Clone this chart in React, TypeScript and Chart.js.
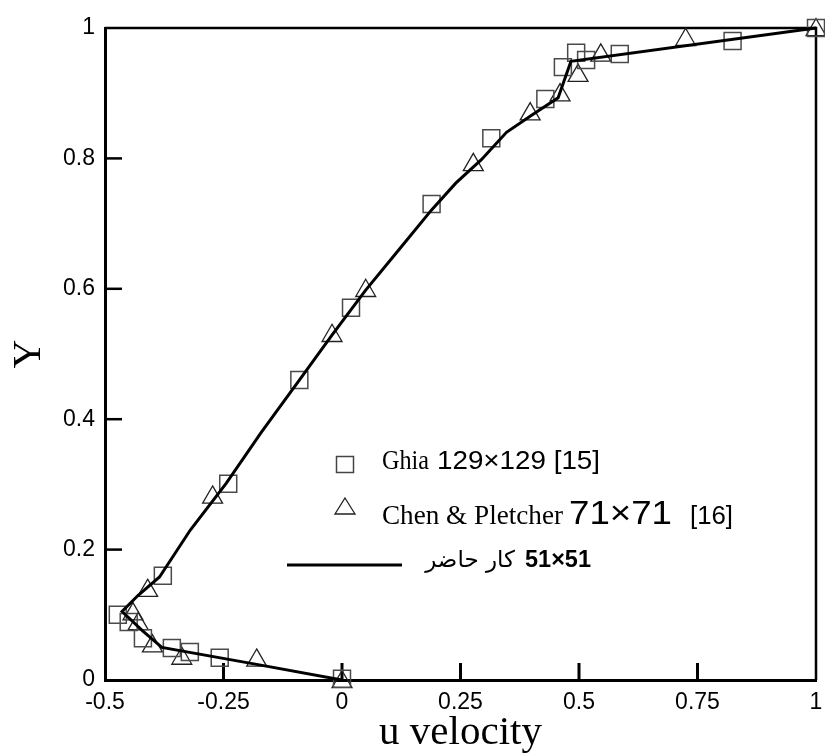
import React, { useEffect, useRef } from 'react';
import { Chart, registerables } from 'chart.js';

Chart.register(...registerables);

// ---- data ----
const X_TICK_VALUES = [-0.5, -0.25, 0, 0.25, 0.5, 0.75, 1];
const X_TICK_LABELS = ['-0.5', '-0.25', '0', '0.25', '0.5', '0.75', '1'];
const Y_TICK_VALUES = [0, 0.2, 0.4, 0.6, 0.8, 1];
const Y_TICK_LABELS = ['0', '0.2', '0.4', '0.6', '0.8', '1'];

const GHIA_U = [1, 0.824, 0.586, 0.515, 0.494, 0.466, 0.429, 0.315, 0.189, 0.019, -0.09, -0.24, -0.378, -0.473, -0.45, -0.42, -0.359, -0.321, -0.258, 0];
const GHIA_Y = [1, 0.98, 0.96, 0.951, 0.962, 0.94, 0.891, 0.831, 0.73, 0.571, 0.46, 0.301, 0.16, 0.1, 0.089, 0.064, 0.049, 0.043, 0.034, 0.002];

const CHEN_U = [1, 0.725, 0.546, 0.498, 0.46, 0.397, 0.277, 0.05, -0.021, -0.273, -0.41, -0.441, -0.43, -0.4, -0.338, -0.18, 0];
const CHEN_Y = [0.997, 0.982, 0.958, 0.927, 0.897, 0.868, 0.79, 0.597, 0.528, 0.28, 0.137, 0.101, 0.086, 0.052, 0.033, 0.03, -0.003];

const PRESENT_U = [0, -0.18, -0.38, -0.42, -0.464, -0.43, -0.385, -0.32, -0.244, -0.17, -0.09, -0.02, 0.05, 0.12, 0.189, 0.24, 0.294, 0.347, 0.4, 0.456, 0.483, 1];
const PRESENT_Y = [0, 0.024, 0.05, 0.075, 0.105, 0.13, 0.158, 0.23, 0.302, 0.38, 0.46, 0.53, 0.598, 0.66, 0.721, 0.762, 0.798, 0.84, 0.866, 0.893, 0.949, 1];

const LEGEND_GHIA_NAME = 'Ghia';
const LEGEND_GHIA_GRID = '129×129 [15]';
const LEGEND_CHEN_NAME = 'Chen & Pletcher';
const LEGEND_CHEN_GRID = '71×71';
const LEGEND_CHEN_REF = '[16]';
const LEGEND_PRESENT_TEXT = 'كار حاضر';
const LEGEND_PRESENT_GRID = '51×51';

const X_TITLE = 'u velocity';
const Y_TITLE = 'Y';

const toPoints = (xs: number[], ys: number[]) => xs.map((x, i) => ({ x, y: ys[i] }));

// draw text starting at x (left edge) squeezed/stretched to a given width
function fitText(ctx: CanvasRenderingContext2D, text: string, x: number, y: number, font: string, width: number) {
  ctx.save();
  ctx.font = font;
  ctx.textAlign = 'left';
  const w = ctx.measureText(text).width || 1;
  ctx.translate(x, y);
  ctx.scale(width / w, 1);
  ctx.fillText(text, 0, 0);
  ctx.restore();
}

const framePlugin = {
  id: 'frameTicks',
  beforeDatasetsDraw(chart: any) {
    const { ctx, chartArea } = chart;
    const { left, right, top, bottom } = chartArea;
    const xs = chart.scales.x;
    const ys = chart.scales.y;
    ctx.save();
    ctx.strokeStyle = '#000';
    ctx.lineWidth = 2.5;
    ctx.beginPath();
    ctx.moveTo(left, top);
    ctx.lineTo(right, top);
    ctx.lineTo(right, bottom);
    ctx.stroke();
    ctx.lineWidth = 3;
    xs.ticks.forEach((t: any) => {
      if (t.value <= xs.min + 1e-9 || t.value >= xs.max - 1e-9) return;
      const px = xs.getPixelForValue(t.value);
      ctx.beginPath();
      ctx.moveTo(px, bottom);
      ctx.lineTo(px, bottom - 17);
      ctx.stroke();
    });
    ctx.lineWidth = 2.5;
    ys.ticks.forEach((t: any) => {
      if (t.value <= ys.min + 1e-9 || t.value >= ys.max - 1e-9) return;
      const py = ys.getPixelForValue(t.value);
      ctx.beginPath();
      ctx.moveTo(left, py);
      ctx.lineTo(left + 17, py);
      ctx.stroke();
    });
    ctx.restore();
  },
};

const legendPlugin = {
  id: 'customLegend',
  afterDraw(chart: any) {
    const ctx = chart.ctx as CanvasRenderingContext2D;
    ctx.save();
    ctx.textBaseline = 'alphabetic';
    ctx.fillStyle = '#000';
    // square
    ctx.strokeStyle = '#444';
    ctx.lineWidth = 1.5;
    ctx.strokeRect(336.5, 456.5, 17, 16);
    fitText(ctx, LEGEND_GHIA_NAME, 382, 469, '28px "Liberation Serif", serif', 47);
    fitText(ctx, LEGEND_GHIA_GRID, 437, 469, '25px "Liberation Sans", sans-serif', 163);
    // triangle
    ctx.strokeStyle = '#222';
    ctx.lineWidth = 1.3;
    ctx.beginPath();
    ctx.moveTo(345, 498);
    ctx.lineTo(355, 514);
    ctx.lineTo(335, 514);
    ctx.closePath();
    ctx.stroke();
    fitText(ctx, LEGEND_CHEN_NAME, 382, 524, '28px "Liberation Serif", serif', 181);
    fitText(ctx, LEGEND_CHEN_GRID, 569, 524, '33px "Liberation Sans", sans-serif', 103);
    fitText(ctx, LEGEND_CHEN_REF, 690, 524, '25px "Liberation Sans", sans-serif', 43);
    // line
    ctx.strokeStyle = '#000';
    ctx.lineWidth = 3;
    ctx.beginPath();
    ctx.moveTo(287, 565);
    ctx.lineTo(402, 565);
    ctx.stroke();
    ctx.font = '23px "DejaVu Sans", sans-serif';
    ctx.textAlign = 'right';
    ctx.fillText(LEGEND_PRESENT_TEXT, 515, 567);
    fitText(ctx, LEGEND_PRESENT_GRID, 525, 567, 'bold 23px "Liberation Sans", sans-serif', 66);
    ctx.restore();
  },
};

export default function App() {
  const ref = useRef<HTMLCanvasElement | null>(null);
  useEffect(() => {
    if (!ref.current) return;
    const chart = new Chart(ref.current, {
      type: 'scatter',
      data: {
        datasets: [
          {
            label: 'present',
            data: toPoints(PRESENT_U, PRESENT_Y),
            showLine: true,
            borderColor: '#000',
            borderWidth: 3,
            pointRadius: 0,
            tension: 0,
            clip: false as any,
          },
          {
            label: 'Ghia',
            data: toPoints(GHIA_U, GHIA_Y),
            pointStyle: 'rect',
            pointRadius: 12,
            pointBorderWidth: 1.5,
            pointBorderColor: '#4a4a4a',
            pointBackgroundColor: 'rgba(0,0,0,0)',
            showLine: false,
            clip: false as any,
          },
          {
            label: 'Chen',
            data: toPoints(CHEN_U, CHEN_Y),
            pointStyle: 'triangle',
            pointRadius: 11.5,
            pointBorderWidth: 1.3,
            pointBorderColor: '#222',
            pointBackgroundColor: 'rgba(0,0,0,0)',
            showLine: false,
            clip: false as any,
          },
        ],
      },
      options: {
        responsive: false,
        animation: false,
        devicePixelRatio: 1,
        layout: { autoPadding: false, padding: { top: 28, right: 9, left: 0, bottom: 0 } },
        plugins: { legend: { display: false }, tooltip: { enabled: false } },
        scales: {
          x: {
            type: 'linear',
            min: -0.5,
            max: 1,
            afterFit: (s: any) => { s.height = 76; s.paddingLeft = 0; s.paddingRight = 0; },
            afterBuildTicks: (s: any) => { s.ticks = X_TICK_VALUES.map((v) => ({ value: v })); },
            ticks: {
              padding: 9,
              autoSkip: false,
              maxRotation: 0,
              color: '#000',
              font: { family: '"Liberation Sans", Arial, sans-serif', size: 23 },
              callback: (v: any) => {
                const i = X_TICK_VALUES.findIndex((t) => Math.abs(t - v) < 1e-6);
                return i >= 0 ? X_TICK_LABELS[i] : '';
              },
            },
            grid: { display: false, drawTicks: false },
            border: { display: true, color: '#000', width: 3 },
            title: {
              display: true,
              text: X_TITLE,
              color: '#000',
              font: { family: '"Liberation Serif", serif', size: 41 },
              padding: { top: 0, bottom: -2 },
            },
          },
          y: {
            type: 'linear',
            min: 0,
            max: 1,
            afterFit: (s: any) => { s.width = 105; s.paddingTop = 0; s.paddingBottom = 0; },
            afterBuildTicks: (s: any) => { s.ticks = Y_TICK_VALUES.map((v) => ({ value: v })); },
            ticks: {
              padding: 10,
              autoSkip: false,
              color: '#000',
              font: { family: '"Liberation Sans", Arial, sans-serif', size: 23 },
              callback: (v: any) => {
                const i = Y_TICK_VALUES.findIndex((t) => Math.abs(t - v) < 1e-6);
                return i >= 0 ? Y_TICK_LABELS[i] : '';
              },
            },
            grid: { display: false, drawTicks: false },
            border: { display: true, color: '#000', width: 3 },
            title: {
              display: true,
              text: Y_TITLE,
              color: '#000',
              font: { family: '"Liberation Serif", serif', size: 40 },
              padding: { top: 5, bottom: 0 },
            },
          },
        },
      },
      plugins: [framePlugin, legendPlugin],
    } as any);
    return () => chart.destroy();
  }, []);
  return (
    <div style={{ position: 'absolute', left: 0, top: 0, width: 825, height: 756, background: '#fff' }}>
      <canvas ref={ref} width={825} height={756} style={{ display: 'block' }} />
    </div>
  );
}
